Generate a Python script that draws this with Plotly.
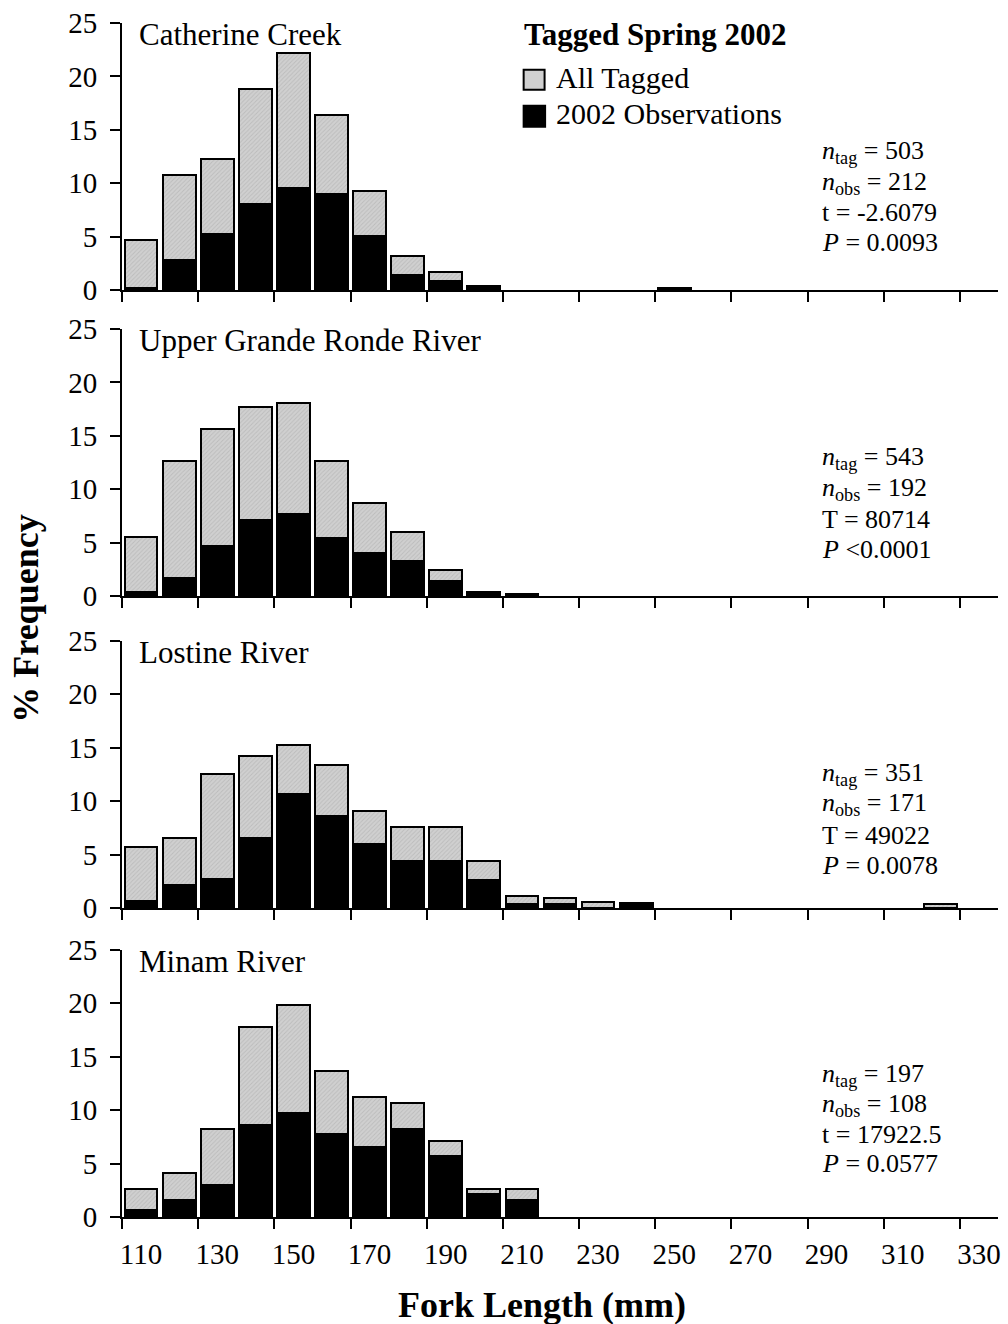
import plotly.graph_objects as go
from plotly.subplots import make_subplots

# ---------------- data ----------------
fork_length = [110, 120, 130, 140, 150, 160, 170, 180, 190, 200, 210, 220,
               230, 240, 250, 260, 270, 280, 290, 300, 310, 320, 330]

panel_names = ["Catherine Creek", "Upper Grande Ronde River", "Lostine River", "Minam River"]

catherine_all = [4.66, 10.78, 12.27, 18.79, 22.17, 16.4, 9.32, 3.17, 1.71, 0.4, 0, 0,
                 0, 0, 0.2, 0, 0, 0, 0, 0, 0, 0, 0]
catherine_obs = [0.2, 2.86, 5.28, 8.07, 9.57, 9.0, 5.09, 1.37, 0.84, 0.4, 0, 0,
                 0, 0, 0.2, 0, 0, 0, 0, 0, 0, 0, 0]

upper_gr_all = [5.56, 12.64, 15.62, 17.67, 18.07, 12.64, 8.76, 5.96, 2.45, 0.43, 0.2, 0,
                0, 0, 0, 0, 0, 0, 0, 0, 0, 0, 0]
upper_gr_obs = [0.43, 1.71, 4.72, 7.14, 7.70, 5.47, 4.0, 3.26, 1.40, 0.43, 0.2, 0,
                0, 0, 0, 0, 0, 0, 0, 0, 0, 0, 0]

lostine_all = [5.76, 6.54, 12.52, 14.2, 15.3, 13.43, 9.13, 7.63, 7.63, 4.45, 1.12, 0.93,
               0.56, 0.44, 0, 0, 0, 0, 0, 0, 0, 0.37, 0]
lostine_obs = [0.62, 2.12, 2.68, 6.6, 10.7, 8.66, 6.04, 4.39, 4.39, 2.65, 0.37, 0.37,
               0, 0.44, 0, 0, 0, 0, 0, 0, 0, 0, 0]

minam_all = [2.65, 4.11, 8.22, 17.76, 19.84, 13.64, 11.25, 10.65, 7.1, 2.65, 2.65, 0,
             0, 0, 0, 0, 0, 0, 0, 0, 0, 0, 0]
minam_obs = [0.62, 1.56, 3.05, 8.66, 9.78, 7.76, 6.6, 8.29, 5.7, 2.18, 1.62, 0,
             0, 0, 0, 0, 0, 0, 0, 0, 0, 0, 0]

all_tagged = [catherine_all, upper_gr_all, lostine_all, minam_all]
observations = [catherine_obs, upper_gr_obs, lostine_obs, minam_obs]

n_tag = ["503", "543", "351", "197"]
n_obs = ["212", "192", "171", "108"]
test_stat = ["t = -2.6079", "T = 80714", "T = 49022", "t = 17922.5"]
p_value = ["= 0.0093", "<0.0001", "= 0.0078", "= 0.0577"]

x_tick_labels = [110, 130, 150, 170, 190, 210, 230, 250, 270, 290, 310, 330]
x_tick_marks = [105, 125, 145, 165, 185, 205, 225, 245, 265, 285, 305, 325]
y_ticks = [0, 5, 10, 15, 20, 25]

legend_title = "Tagged Spring 2002"
legend_labels = ["All Tagged", "2002 Observations"]

# ---------------- figure ----------------
FONT = "Liberation Serif, Times New Roman, serif"
GRAY = "#d0d0d0"
fig = make_subplots(rows=4, cols=1)


def nz(vals):
    return [v if v > 0 else None for v in vals]


for i in range(4):
    fig.add_trace(go.Bar(
        x=fork_length, y=nz(all_tagged[i]), width=8.6,
        name=legend_labels[0], showlegend=False,
        marker=dict(color=GRAY, line=dict(color="black", width=2),
                    pattern=dict(shape="/", fgcolor="#a8a8a8", bgcolor=GRAY,
                                 size=3, solidity=0.3)),
    ), row=i + 1, col=1)
    fig.add_trace(go.Bar(
        x=fork_length, y=nz(observations[i]), width=8.6,
        name=legend_labels[1], showlegend=False,
        marker=dict(color="black", line=dict(color="black", width=2)),
    ), row=i + 1, col=1)

# panel domains (paper fractions)
domains = [[0.7763, 1.0], [0.5200, 0.7437], [0.2588, 0.4825], [0.0, 0.2237]]
stat_y = [[12.97, 9.98, 7.28, 4.45],
          [12.97, 10.07, 7.18, 4.35],
          [12.5, 9.7, 6.8, 3.95],
          [13.3, 10.5, 7.7, 5.0]]

for i in range(4):
    ax = "" if i == 0 else str(i + 1)
    fig.layout["yaxis" + ax].update(
        domain=domains[i], range=[0, 25], tickvals=y_ticks,
        ticks="outside", ticklen=10, tickwidth=2, tickcolor="black",
        showline=True, linewidth=2, linecolor="black", showgrid=False, zeroline=False,
        tickfont=dict(family=FONT, size=29, color="black"), ticklabelstandoff=7,
    )
    fig.layout["xaxis" + ax].update(
        range=[105, 335], tickvals=x_tick_labels, ticktext=[str(v) for v in x_tick_labels],
        ticks="outside", ticklen=10, tickcolor="rgba(0,0,0,0)",
        minor=dict(tickmode="array", tickvals=x_tick_marks, ticks="outside",
                   ticklen=10, tickwidth=2, tickcolor="black"),
        showline=True, linewidth=2, linecolor="black", showgrid=False, zeroline=False,
        showticklabels=(i == 3),
        tickfont=dict(family=FONT, size=29, color="black"),
    )
    yr = "y" + ax
    # panel title
    fig.add_annotation(x=0.017, xref="paper", y=23.9, yref=yr, text=panel_names[i],
                       showarrow=False, xanchor="left", yanchor="middle",
                       font=dict(family=FONT, size=31, color="black"))
    lines = [
        "<i>n</i><sub>tag</sub> = " + n_tag[i],
        "<i>n</i><sub>obs</sub> = " + n_obs[i],
        test_stat[i],
        "<i>P</i> " + p_value[i],
    ]
    for j, t in enumerate(lines):
        fig.add_annotation(x=0.7964, xref="paper", y=stat_y[i][j], yref=yr, text=t,
                           showarrow=False, xanchor="left", yanchor="middle",
                           font=dict(family=FONT, size=26, color="black"))

# legend (drawn manually to match the swatch size)
fig.add_annotation(x=0.4562, xref="paper", y=0.9900, yref="paper",
                   text="<b>" + legend_title + "</b>", showarrow=False,
                   xanchor="left", yanchor="middle",
                   font=dict(family=FONT, size=31, color="black"))
fig.add_shape(type="rect", xref="paper", yref="paper",
              x0=0.4585, x1=0.4824, y0=0.9441, y1=0.9608,
              fillcolor=GRAY, line=dict(color="black", width=2))
fig.add_shape(type="rect", xref="paper", yref="paper",
              x0=0.4585, x1=0.4830, y0=0.9132, y1=0.9307,
              fillcolor="black", line=dict(color="black", width=2))
fig.add_annotation(x=0.4926, xref="paper", y=0.9541, yref="paper",
                   text=legend_labels[0], showarrow=False,
                   xanchor="left", yanchor="middle",
                   font=dict(family=FONT, size=30, color="black"))
fig.add_annotation(x=0.4926, xref="paper", y=0.9240, yref="paper",
                   text=legend_labels[1], showarrow=False,
                   xanchor="left", yanchor="middle",
                   font=dict(family=FONT, size=30, color="black"))

# axis titles
fig.add_annotation(x=0.48, xref="paper", y=-0.0735, yref="paper",
                   text="<b>Fork Length (mm)</b>", showarrow=False,
                   xanchor="center", yanchor="middle",
                   font=dict(family=FONT, size=36, color="black"))
fig.add_annotation(x=-0.110, xref="paper", y=0.5008, yref="paper",
                   text="<b>% Frequency</b>", showarrow=False, textangle=-90,
                   xanchor="center", yanchor="middle",
                   font=dict(family=FONT, size=36, color="black"))

fig.update_layout(
    width=1008, height=1324,
    margin=dict(l=122, r=7, t=19, b=107),
    barmode="overlay", bargap=0,
    paper_bgcolor="white", plot_bgcolor="white",
    font=dict(family=FONT, color="black"),
    showlegend=False,
)

fig.write_html("out.html")
